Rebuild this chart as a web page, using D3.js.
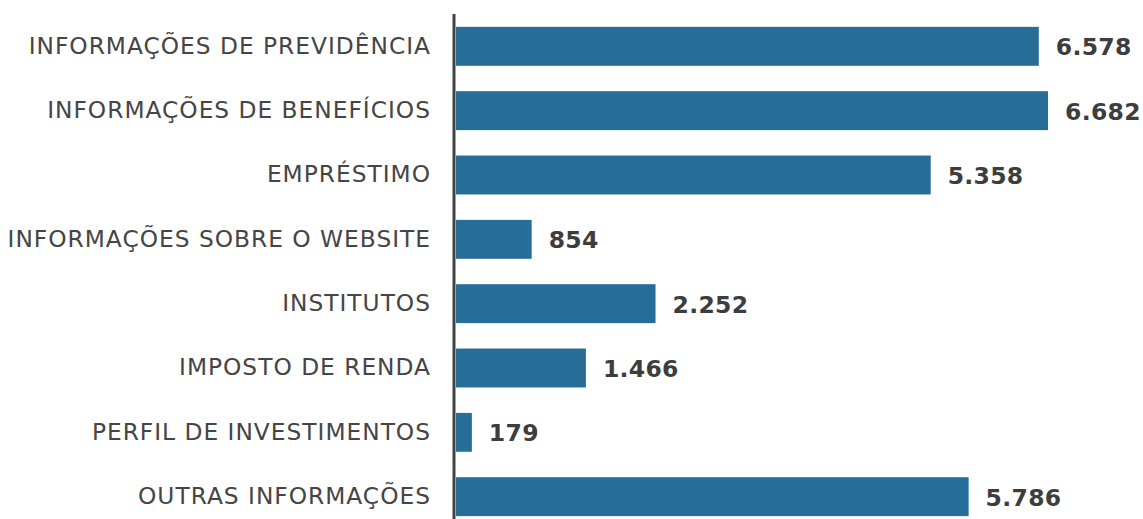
<!DOCTYPE html>
<html>
<head>
<meta charset="utf-8">
<script src="https://cdn.jsdelivr.net/npm/d3@7"></script>
<style>
  html, body { margin: 0; padding: 0; background: #fff; }
  svg { display: block; }
</style>
</head>
<body>
<svg id="chart" width="1143" height="519"></svg>
<script>
const categories = [
  "INFORMAÇÕES DE PREVIDÊNCIA",
  "INFORMAÇÕES DE BENEFÍCIOS",
  "EMPRÉSTIMO",
  "INFORMAÇÕES SOBRE O WEBSITE",
  "INSTITUTOS",
  "IMPOSTO DE RENDA",
  "PERFIL DE INVESTIMENTOS",
  "OUTRAS INFORMAÇÕES"
];
const values = [6578, 6682, 5358, 854, 2252, 1466, 179, 5786];
const valueLabels = ["6.578", "6.682", "5.358", "854", "2.252", "1.466", "179", "5.786"];

const svg = d3.select("#chart");
const x0 = 456;
const x = d3.scaleLinear().domain([0, 6682]).range([x0, 1048]);
const y = d3.scaleBand().domain(categories).range([14, 529]).paddingInner(0.395).paddingOuter(0.2);

svg.selectAll("rect.bar")
  .data(values)
  .enter().append("rect")
  .attr("class", "bar")
  .attr("x", x(0))
  .attr("y", (d, i) => y(categories[i]))
  .attr("width", d => x(d) - x(0))
  .attr("height", y.bandwidth())
  .attr("fill", "#266d98");

svg.selectAll("text.val")
  .data(values)
  .enter().append("text")
  .attr("class", "val")
  .attr("x", d => x(d) + 17)
  .attr("y", (d, i) => y(categories[i]) + y.bandwidth() / 2)
  .attr("dy", "0.38em")
  .attr("font-family", "Verdana, 'DejaVu Sans', sans-serif")
  .attr("font-weight", "bold")
  .attr("font-size", 23.5)
  .attr("letter-spacing", 0.3)
  .attr("fill", "#3d3d3d")
  .text((d, i) => valueLabels[i]);

const yAxis = d3.axisLeft(y).tickSize(0).tickPadding(23);
const g = svg.append("g").attr("transform", `translate(${x0 - 2},0)`).call(yAxis);
g.select(".domain").remove();
g.selectAll("text")
  .attr("font-family", "Verdana, 'DejaVu Sans', sans-serif")
  .attr("font-size", 23.3)
  .attr("letter-spacing", 1.0)
  .attr("fill", "#454545");

svg.append("line")
  .attr("x1", x0 - 2).attr("x2", x0 - 2)
  .attr("y1", 14).attr("y2", 519)
  .attr("stroke", "#444").attr("stroke-width", 3);
</script>
</body>
</html>
